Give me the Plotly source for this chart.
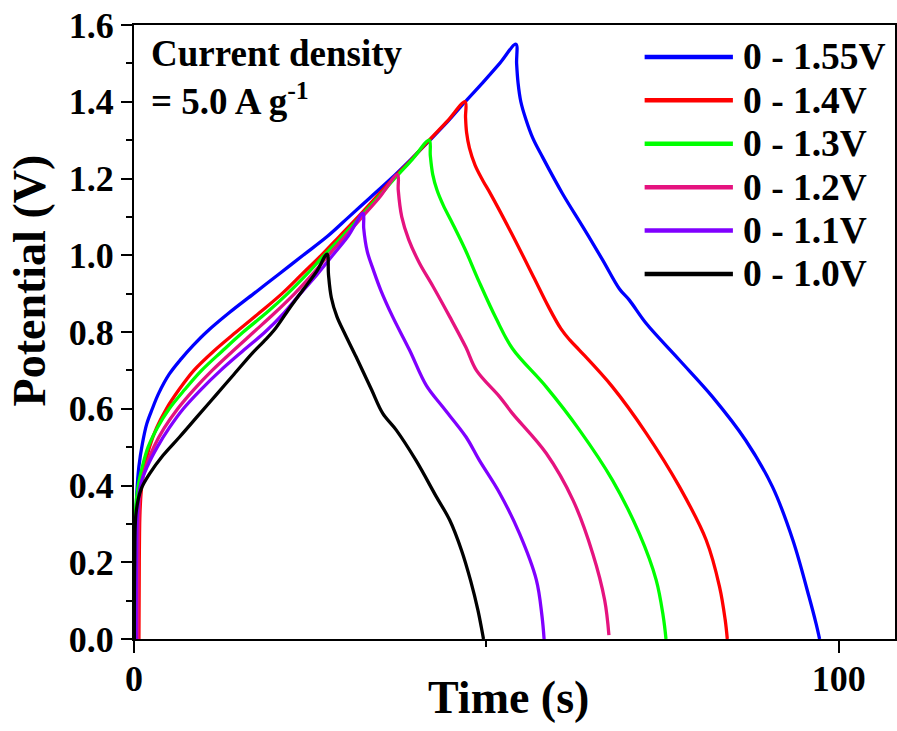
import plotly.graph_objects as go

# Galvanostatic charge/discharge curves at 5.0 A/g for several voltage windows
labels = ["0 - 1.55V", "0 - 1.4V", "0 - 1.3V", "0 - 1.2V", "0 - 1.1V", "0 - 1.0V"]
colors = ["#0000FF", "#FF0000", "#00FF00", "#E5137F", "#8000FF", "#000000"]

t_155 = [0.1, 0.15, 0.25, 0.4, 0.7, 1.2, 1.8, 2.6, 3.5, 5.0, 6.7, 8.4, 10.3, 13.5, 17.0, 20.5, 24.0,
         27.5, 30.5, 33.5, 36.5, 39.3, 42.0, 44.6, 47.0, 49.5, 51.9, 54.2,
         54.3, 54.5, 54.9, 55.6, 56.6, 58.0, 60.8, 63.7, 66.5, 68.9, 70.3, 72.7, 77.4, 82.1, 86.8,
         90.6, 93.5, 95.8, 96.8, 97.3]
v_155 = [0.0, 0.15, 0.3, 0.38, 0.45, 0.51, 0.56, 0.6, 0.64, 0.69, 0.73, 0.765, 0.8, 0.85, 0.9, 0.95, 1.0,
         1.05, 1.1, 1.15, 1.2, 1.25, 1.3, 1.35, 1.4, 1.45, 1.5, 1.55,
         1.50, 1.45, 1.40, 1.355, 1.305, 1.255, 1.161, 1.074, 0.988, 0.912, 0.883, 0.822, 0.727, 0.631, 0.518,
         0.397, 0.258, 0.110, 0.04, 0.0]

t_14 = [0.7, 0.75, 0.85, 1.1, 1.5, 2.2, 3.2, 4.6, 6.4, 8.5, 11.3, 14.5, 17.8, 21.0, 23.8, 26.6, 29.2,
        31.8, 34.3, 36.8, 39.4, 41.9, 44.5, 47.0,
        47.05, 47.2, 47.6, 48.4, 49.5, 50.6, 53.5, 56.8, 58.7, 60.6, 61.8, 63.2, 67.9, 72.7, 77.4, 81.2, 83.1,
        83.9, 84.2]
v_14 = [0.0, 0.2, 0.33, 0.4, 0.45, 0.5, 0.55, 0.6, 0.65, 0.7, 0.75, 0.8, 0.85, 0.9, 0.95, 1.0, 1.05,
        1.1, 1.15, 1.2, 1.25, 1.3, 1.35, 1.4,
        1.36, 1.32, 1.28, 1.235, 1.195, 1.16, 1.06, 0.94, 0.87, 0.808, 0.78, 0.753, 0.657, 0.536, 0.397, 0.258, 0.136,
        0.05, 0.0]

t_13 = [0.0, 0.05, 0.2, 0.6, 1.2, 2.0, 3.3, 5.0, 7.2, 9.6, 12.5, 15.5, 18.8, 21.8, 24.5, 27.0, 29.6,
        32.1, 34.6, 37.0, 39.5, 41.9,
        42.05, 42.4, 43.0, 43.9, 45.2, 47.0, 49.0, 51.4, 53.7, 58.5, 63.2, 67.9, 71.7, 74.1, 75.1, 75.5]
v_13 = [0.0, 0.2, 0.33, 0.4, 0.45, 0.5, 0.55, 0.6, 0.65, 0.7, 0.75, 0.8, 0.85, 0.9, 0.95, 1.0, 1.05,
        1.1, 1.15, 1.2, 1.25, 1.3,
        1.26, 1.21, 1.17, 1.13, 1.083, 1.015, 0.93, 0.835, 0.757, 0.657, 0.545, 0.414, 0.275, 0.154, 0.06, 0.0]

t_12 = [0.55, 0.6, 0.7, 1.0, 1.7, 2.8, 4.3, 6.2, 8.5, 11.1, 14.0, 17.0, 20.0, 22.8, 25.3, 27.6, 30.0,
        32.4, 34.8, 37.4,
        37.5, 38.0, 39.0, 40.5, 42.4, 44.8, 47.1, 48.6, 51.9, 53.7, 58.5, 62.3, 65.1, 66.8, 67.4]
v_12 = [0.0, 0.2, 0.33, 0.4, 0.45, 0.5, 0.55, 0.6, 0.65, 0.7, 0.75, 0.8, 0.85, 0.9, 0.95, 1.0, 1.05,
        1.1, 1.15, 1.21,
        1.17, 1.10, 1.04, 0.98, 0.92, 0.84, 0.76, 0.70, 0.631, 0.588, 0.484, 0.362, 0.223, 0.101, 0.01]

t_11 = [0.3, 0.35, 0.5, 0.9, 1.9, 3.3, 5.0, 7.0, 9.5, 12.3, 15.4, 18.6, 21.3, 23.6, 26.0, 28.2, 30.4, 32.5,
        32.6, 33.1, 34.0, 35.0, 36.7, 39.1, 41.5, 43.8, 47.1, 49.0, 51.9, 54.7, 57.1, 57.9, 58.2]
v_11 = [0.0, 0.2, 0.33, 0.4, 0.45, 0.5, 0.55, 0.6, 0.65, 0.7, 0.75, 0.8, 0.85, 0.9, 0.95, 1.0, 1.05, 1.11,
        1.07, 1.01, 0.96, 0.91, 0.84, 0.753, 0.66, 0.605, 0.527, 0.466, 0.380, 0.275, 0.154, 0.06, 0.0]

t_10 = [0.05, 0.1, 0.3, 1.0, 2.2, 4.1, 6.5, 9.0, 11.6, 14.2, 16.8, 18.4, 19.9, 22.0, 24.0, 26.0, 27.4,
        27.6, 28.0, 28.8, 29.8, 31.5, 33.7, 35.3, 37.2, 40.0, 42.9, 44.8, 46.5, 47.8, 48.8, 49.3, 49.6]
v_10 = [0.0, 0.2, 0.33, 0.39, 0.43, 0.478, 0.527, 0.58, 0.635, 0.69, 0.745, 0.775, 0.805, 0.86, 0.91, 0.96, 1.003,
        0.95, 0.89, 0.84, 0.80, 0.736, 0.65, 0.588, 0.545, 0.466, 0.371, 0.31, 0.23, 0.15, 0.076, 0.03, 0.0]

times = [t_155, t_14, t_13, t_12, t_11, t_10]
volts = [v_155, v_14, v_13, v_12, v_11, v_10]

x_ticks = [0, 100]
y_ticks = [0.0, 0.2, 0.4, 0.6, 0.8, 1.0, 1.2, 1.4, 1.6]

FONT = "Liberation Serif"

fig = go.Figure()
for name, col, t, v in zip(labels, colors, times, volts):
    fig.add_trace(go.Scatter(x=t, y=v, mode="lines", name=name,
                             line=dict(color=col, width=3.3, shape="spline", smoothing=1.0),
                             showlegend=False))

# legend keys: long line samples with labels at the top right
leg_top = 0.948
leg_step = 0.0707
for i, (name, col) in enumerate(zip(labels, colors)):
    yy = leg_top - i * leg_step
    fig.add_shape(type="line", xref="paper", yref="paper", x0=0.671, x1=0.787, y0=yy, y1=yy,
                  line=dict(color=col, width=4.5))
    fig.add_annotation(xref="paper", yref="paper", x=0.798, y=yy, text=name, showarrow=False,
                       xanchor="left", yanchor="middle",
                       font=dict(family=FONT, size=37.5, color="black", weight="bold"))

fig.add_annotation(xref="paper", yref="paper", x=0.02, y=0.99, xanchor="left", yanchor="top",
                   align="left", showarrow=False,
                   text="Current density<br>= 5.0 A g<sup>-1</sup>",
                   font=dict(family=FONT, size=37, color="black", weight="bold"))

# axis titles
fig.add_annotation(xref="paper", yref="paper", x=0.492, y=-0.096, xanchor="center", yanchor="middle",
                   showarrow=False, text="Time (s)",
                   font=dict(family=FONT, size=46, color="black", weight="bold"))
fig.add_annotation(xref="paper", yref="paper", x=-0.138, y=0.584, xanchor="center", yanchor="middle",
                   showarrow=False, text="Potential (V)", textangle=-90,
                   font=dict(family=FONT, size=46, color="black", weight="bold"))

axis_common = dict(showline=True, linecolor="black", linewidth=2, mirror=True, automargin=False,
                   ticks="outside", tickcolor="black", tickwidth=2, showgrid=False, zeroline=False,
                   tickfont=dict(family=FONT, size=36, color="black", weight="bold"))

fig.update_xaxes(range=[0, 108], tickvals=x_ticks, ticklen=12, ticklabelstandoff=-5,
                 minor=dict(ticks="outside", tickvals=[50], ticklen=6, tickcolor="black", tickwidth=2),
                 **axis_common)
fig.update_yaxes(range=[0, 1.6], tickvals=y_ticks, tickformat=".1f", ticklen=11,
                 minor=dict(ticks="outside", dtick=0.1, tick0=0, ticklen=6, tickcolor="black", tickwidth=2),
                 **axis_common)

fig.update_layout(width=897, height=731, margin=dict(l=134, r=2, t=25, b=92),
                  plot_bgcolor="white", paper_bgcolor="white",
                  font=dict(family=FONT, color="black"))

fig.write_html("out.html")
